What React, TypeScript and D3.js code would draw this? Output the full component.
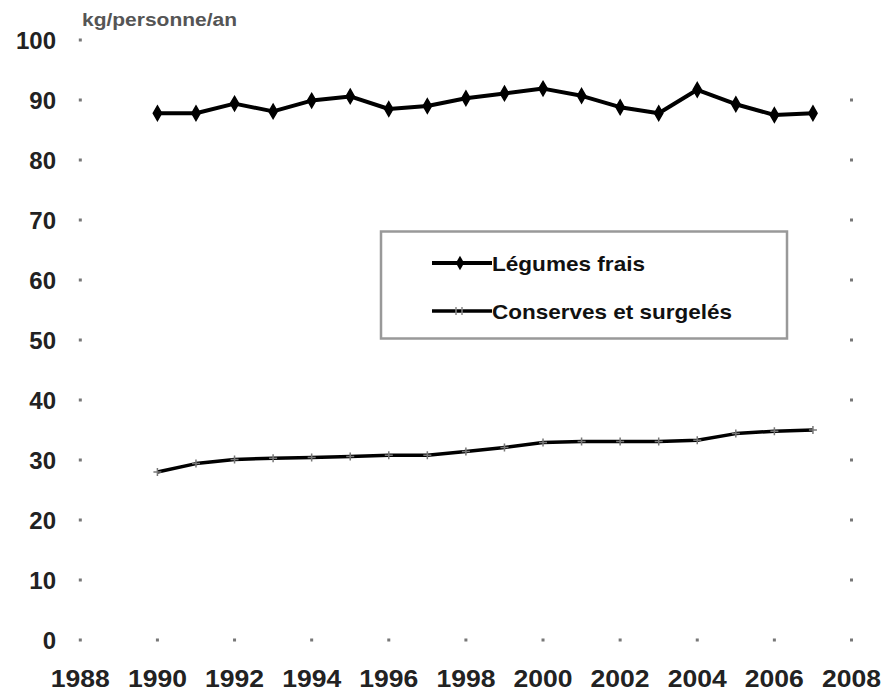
import React from "react";
import * as d3 from "d3";

const years = [1990, 1991, 1992, 1993, 1994, 1995, 1996, 1997, 1998, 1999, 2000, 2001, 2002, 2003, 2004, 2005, 2006, 2007];
const legumesFrais = [87.8, 87.8, 89.4, 88.1, 89.9, 90.6, 88.5, 89.0, 90.3, 91.1, 91.9, 90.7, 88.8, 87.8, 91.7, 89.3, 87.5, 87.8];
const conserves = [28.0, 29.4, 30.1, 30.3, 30.4, 30.6, 30.8, 30.8, 31.4, 32.1, 32.9, 33.1, 33.1, 33.1, 33.3, 34.4, 34.8, 35.0];
const xTicks = [1988, 1990, 1992, 1994, 1996, 1998, 2000, 2002, 2004, 2006, 2008];
const yTicks = [0, 10, 20, 30, 40, 50, 60, 70, 80, 90, 100];
const unitLabel = "kg/personne/an";
const seriesNames = ["Légumes frais", "Conserves et surgelés"];

const W = 887;
const H = 693;
const FONT = "'Liberation Sans', Arial, sans-serif";

export default function App() {
  const x = d3.scaleLinear().domain([1988, 2008]).range([80.3, 851.5]);
  const y = d3.scaleLinear().domain([0, 100]).range([640, 40]);

  const line = d3
    .line<number>()
    .x((_, i) => x(years[i]))
    .y((d) => y(d));

  const dots: { cx: number; cy: number }[] = [];
  yTicks.forEach((t) => dots.push({ cx: x(1988), cy: y(t) }));
  xTicks.slice(1).forEach((t) => dots.push({ cx: x(t), cy: y(0) }));
  yTicks.filter((t) => t > 0 && t < 100).forEach((t) => dots.push({ cx: x(2008), cy: y(t) }));

  const lg = { x: 381, y: 231.5, w: 406, h: 107 };
  const diamond = d3.symbol().type(d3.symbolDiamond).size(60);

  return (
    <svg
      width={W}
      height={H}
      style={{ position: "absolute", left: 0, top: 0, background: "#fff" }}
      fontFamily={FONT}
    >
      <rect x={0} y={0} width={W} height={H} fill="#fff" />
      <text x={82} y={26} fontSize={18} fill="#555" fontWeight={600} textLength={155} lengthAdjust="spacingAndGlyphs">
        {unitLabel}
      </text>

      {dots.map((d, i) => (
        <rect key={i} x={d.cx - 1.5} y={d.cy - 1.5} width={3} height={3} fill="#777" />
      ))}

      {yTicks.map((t) => (
        <text
          key={t}
          x={56}
          y={y(t) + 8.5}
          textAnchor="end"
          fontSize={24}
          fontWeight="bold"
          fill="#222"
        >
          {t}
        </text>
      ))}

      {xTicks.map((t) => (
        <text
          key={t}
          x={x(t)}
          y={687}
          textAnchor="middle"
          fontSize={24}
          fontWeight="bold"
          fill="#222"
          textLength={59}
          lengthAdjust="spacingAndGlyphs"
        >
          {t}
        </text>
      ))}

      <path d={line(legumesFrais) || ""} fill="none" stroke="#000" strokeWidth={4} strokeLinejoin="round" />
      {legumesFrais.map((v, i) => (
        <path key={i} d={diamond() || ""} transform={`translate(${x(years[i])},${y(v)})`} fill="#000" stroke="#000" strokeWidth={1.5} />
      ))}

      <path d={line(conserves) || ""} fill="none" stroke="#000" strokeWidth={3.5} strokeLinejoin="round" />
      {conserves.map((v, i) => (
        <path
          key={i}
          d={`M${x(years[i]) - 4},${y(v)}h8M${x(years[i])},${y(v) - 4}v8`}
          stroke="#777"
          strokeWidth={1.5}
        />
      ))}

      <rect x={lg.x} y={lg.y} width={lg.w} height={lg.h} fill="#fff" stroke="#999" strokeWidth={2.5} />
      <line x1={432} x2={492} y1={263} y2={263} stroke="#000" strokeWidth={4} />
      <path d={diamond() || ""} transform="translate(460,263)" fill="#000" />
      <text x={492} y={270.5} fontSize={21} fontWeight="bold" fill="#111" textLength={153} lengthAdjust="spacingAndGlyphs">
        {seriesNames[0]}
      </text>
      <line x1={432} x2={492} y1={311} y2={311} stroke="#000" strokeWidth={3.5} />
      <path d="M456,307v8M462,307v8" stroke="#888" strokeWidth={1.5} />
      <text x={492} y={318.5} fontSize={21} fontWeight="bold" fill="#111" textLength={240} lengthAdjust="spacingAndGlyphs">
        {seriesNames[1]}
      </text>
    </svg>
  );
}
